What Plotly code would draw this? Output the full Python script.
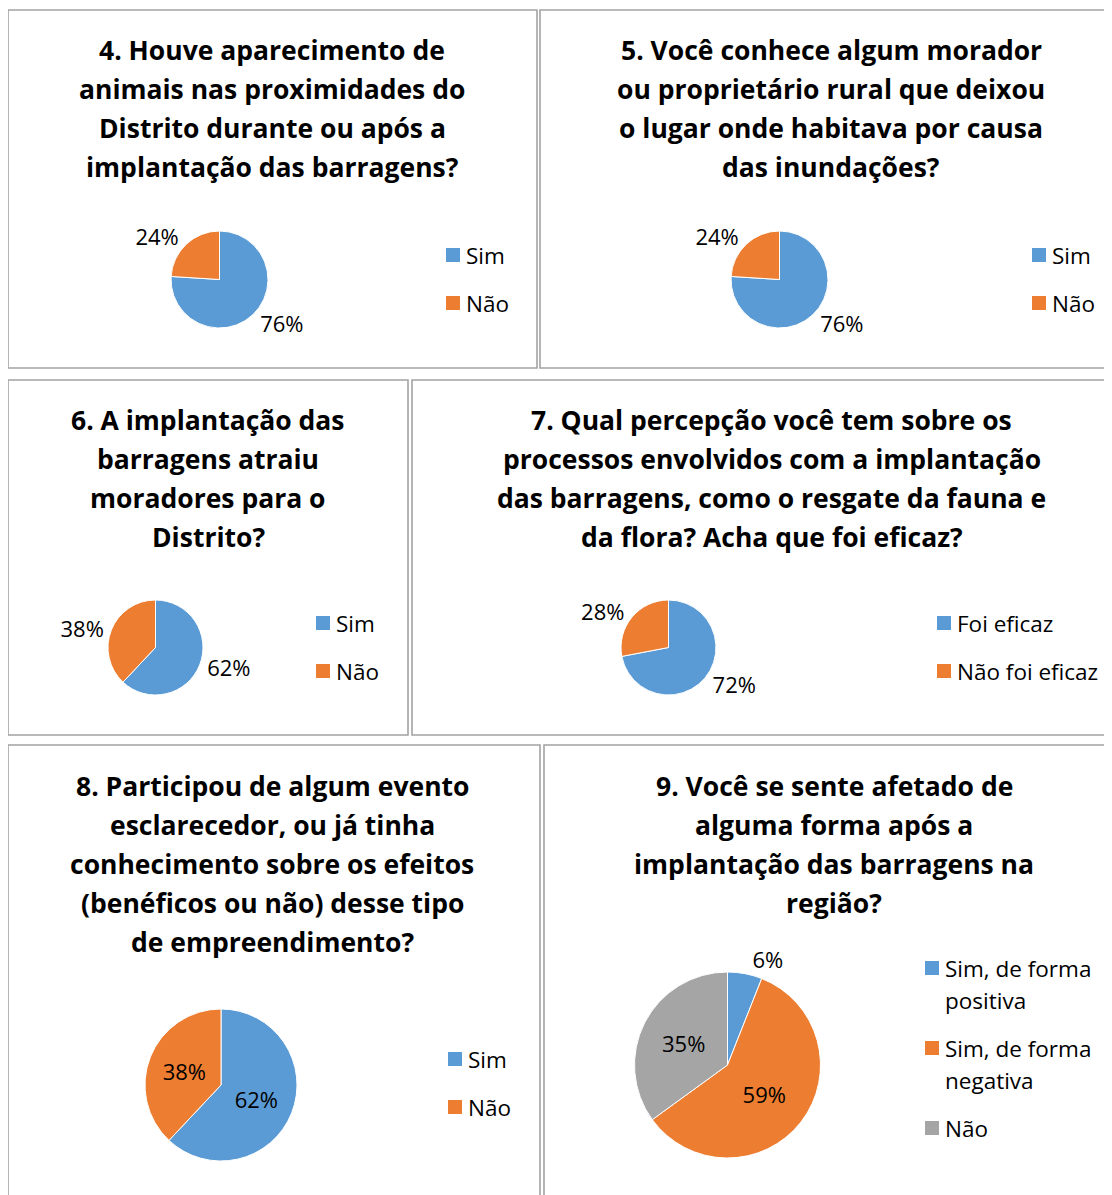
import plotly.graph_objects as go

W, H = 1112, 1195
OFF = 8  # margem padrão do <body> na página gerada
FONT = "Open Sans"
BLUE, ORANGE, GRAY = "#5B9BD5", "#ED7D31", "#A5A5A5"

# dados das perguntas (percentuais)
q4_title = ["4. Houve aparecimento de", "animais nas proximidades do",
            "Distrito durante ou após a", "implantação das barragens?"]
q4_labels = ["Sim", "Não"]
q4_values = [76, 24]

q5_title = ["5. Você conhece algum morador", "ou proprietário rural que deixou",
            "o lugar onde habitava por causa", "das inundações?"]
q5_labels = ["Sim", "Não"]
q5_values = [76, 24]

q6_title = ["6. A implantação das", "barragens atraiu", "moradores para o", "Distrito?"]
q6_labels = ["Sim", "Não"]
q6_values = [62, 38]

q7_title = ["7. Qual percepção você tem sobre os", "processos envolvidos com a implantação",
            "das barragens, como o resgate da fauna e", "da flora? Acha que foi eficaz?"]
q7_labels = ["Foi eficaz", "Não foi eficaz"]
q7_values = [72, 28]

q8_title = ["8. Participou de algum evento", "esclarecedor, ou já tinha",
            "conhecimento sobre os efeitos", "(benéficos ou não) desse tipo",
            "de empreendimento?"]
q8_labels = ["Sim", "Não"]
q8_values = [62, 38]

q9_title = ["9. Você se sente afetado de", "alguma forma após a",
            "implantação das barragens na", "região?"]
q9_labels = ["Sim, de forma positiva", "Sim, de forma negativa", "Não"]
q9_legend = [["Sim, de forma", "positiva"], ["Sim, de forma", "negativa"], ["Não"]]
q9_values = [6, 59, 35]

# posições em pixels: caixa, centro do título, 1a linha, caixa da pizza, legenda
panels = [
    dict(box=(8, 10, 537, 368), tx=272, ty=50, pie=(171, 231, 268, 328), lx=446, ly=255,
         title=q4_title, labels=q4_labels, values=q4_values, legend=None,
         colors=[BLUE, ORANGE], pos="outside"),
    dict(box=(540, 10, 1130, 368), tx=831, ty=50, pie=(731, 231, 828, 328), lx=1032, ly=255,
         title=q5_title, labels=q5_labels, values=q5_values, legend=None,
         colors=[BLUE, ORANGE], pos="outside"),
    dict(box=(8, 380, 408, 735), tx=208, ty=420, pie=(108, 600, 203, 695), lx=316, ly=623,
         title=q6_title, labels=q6_labels, values=q6_values, legend=None,
         colors=[BLUE, ORANGE], pos="outside"),
    dict(box=(412, 380, 1130, 735), tx=772, ty=420, pie=(621, 600, 716, 695), lx=937, ly=623,
         title=q7_title, labels=q7_labels, values=q7_values, legend=None,
         colors=[BLUE, ORANGE], pos="outside"),
    dict(box=(8, 745, 540, 1215), tx=272, ty=786, pie=(145, 1009, 297, 1161), lx=448, ly=1059,
         title=q8_title, labels=q8_labels, values=q8_values, legend=None,
         colors=[BLUE, ORANGE], pos="inside"),
    dict(box=(544, 745, 1130, 1215), tx=834, ty=786, pie=(634, 972, 821, 1158), lx=925, ly=968,
         title=q9_title, labels=q9_labels, values=q9_values, legend=q9_legend,
         colors=[BLUE, ORANGE, GRAY], pos=["outside", "inside", "inside"]),
]


def fx(x):
    return (x - OFF) / W


def fy(y):
    return 1 - (y - OFF) / H


fig = go.Figure()
shapes = []
annotations = []

for p in panels:
    x0, y0, x1, y1 = p["box"]
    shapes.append(dict(type="rect", xref="paper", yref="paper",
                       x0=fx(x0), x1=fx(x1), y0=fy(y1), y1=fy(y0),
                       line=dict(color="#A3A3A3", width=1.6), fillcolor="rgba(0,0,0,0)"))

    # título, uma linha por anotação
    for i, line in enumerate(p["title"]):
        annotations.append(dict(text="<b>%s</b>" % line, x=fx(p["tx"]), y=fy(p["ty"] + 39 * i),
                                xref="paper", yref="paper", xanchor="center", yanchor="middle",
                                showarrow=False, font=dict(family=FONT, size=26.5, color="#000000")))

    px0, py0, px1, py1 = p["pie"]
    fig.add_trace(go.Pie(
        labels=p["labels"], values=p["values"], sort=False, direction="clockwise",
        domain=dict(x=[fx(px0), fx(px1)], y=[fy(py1), fy(py0)]),
        marker=dict(colors=p["colors"], line=dict(color="white", width=1)),
        textinfo="percent", texttemplate="%{value}%", textposition=p["pos"],
        textfont=dict(family=FONT, size=22, color="#000000"),
        insidetextfont=dict(family=FONT, size=22, color="#000000"),
        outsidetextfont=dict(family=FONT, size=22, color="#000000"),
        insidetextorientation="horizontal",
        showlegend=False, hoverinfo="label+percent",
    ))

    # legenda
    entries = p["legend"] or [[lab] for lab in p["labels"]]
    yy = p["ly"]
    for color, lines in zip(p["colors"], entries):
        shapes.append(dict(type="rect", xref="paper", yref="paper",
                           x0=fx(p["lx"]), x1=fx(p["lx"] + 14), y0=fy(yy + 7), y1=fy(yy - 7),
                           line=dict(width=0), fillcolor=color))
        for line in lines:
            annotations.append(dict(text=line, x=fx(p["lx"] + 18), y=fy(yy),
                                    xref="paper", yref="paper", xanchor="left", yanchor="middle",
                                    showarrow=False, font=dict(family=FONT, size=22.5, color="#000000")))
            yy += 32
        yy += 16

fig.update_layout(
    width=W, height=H, margin=dict(l=0, r=0, t=0, b=0),
    paper_bgcolor="white", plot_bgcolor="white",
    shapes=shapes, annotations=annotations,
)

fig.write_html("out.html")
